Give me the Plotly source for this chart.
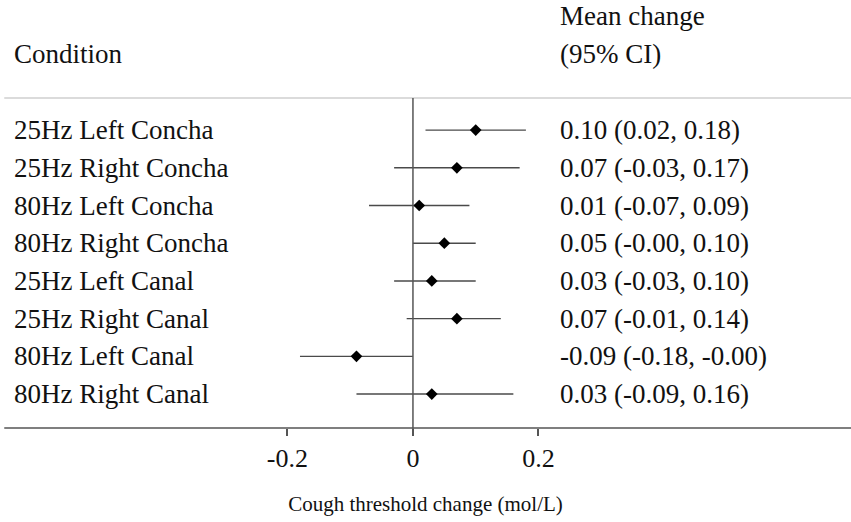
import plotly.graph_objects as go

conditions = [
    "25Hz Left Concha", "25Hz Right Concha", "80Hz Left Concha", "80Hz Right Concha",
    "25Hz Left Canal", "25Hz Right Canal", "80Hz Left Canal", "80Hz Right Canal",
]
mean_change = [0.10, 0.07, 0.01, 0.05, 0.03, 0.07, -0.09, 0.03]
ci_low = [0.02, -0.03, -0.07, -0.00, -0.03, -0.01, -0.18, -0.09]
ci_high = [0.18, 0.17, 0.09, 0.10, 0.10, 0.14, -0.00, 0.16]
ci_text = [
    "0.10 (0.02, 0.18)", "0.07 (-0.03, 0.17)", "0.01 (-0.07, 0.09)", "0.05 (-0.00, 0.10)",
    "0.03 (-0.03, 0.10)", "0.07 (-0.01, 0.14)", "-0.09 (-0.18, -0.00)", "0.03 (-0.09, 0.16)",
]
x_ticks = [-0.2, 0, 0.2]
x_ticklabels = ["-0.2", "0", "0.2"]

FONT = "Liberation Serif"
TXT = "#111111"
rows = list(range(len(conditions)))

fig = go.Figure(
    go.Scatter(
        x=mean_change,
        y=rows,
        mode="markers",
        marker=dict(symbol="diamond", size=9, color="black"),
        error_x=dict(
            type="data",
            symmetric=False,
            array=[h - m for h, m in zip(ci_high, mean_change)],
            arrayminus=[m - l for m, l in zip(mean_change, ci_low)],
            color="#4a4a4a",
            thickness=1.4,
            width=0,
        ),
        showlegend=False,
        hoverinfo="skip",
    )
)

annotations = []
for i, (lab, txt) in enumerate(zip(conditions, ci_text)):
    annotations.append(dict(x=0.014, xref="paper", y=i, yref="y", text=lab,
                            xanchor="left", showarrow=False))
    annotations.append(dict(x=0.231, xref="x", y=i, yref="y", text=txt,
                            xanchor="left", showarrow=False))
annotations += [
    dict(x=0.014, xref="paper", y=-2.015, yref="y", text="Condition",
         xanchor="left", showarrow=False),
    dict(x=0.231, xref="x", y=-3.02, yref="y", text="Mean change",
         xanchor="left", showarrow=False),
    dict(x=0.231, xref="x", y=-2.015, yref="y", text="(95% CI)",
         xanchor="left", showarrow=False),
]

shapes = [
    # header rule
    dict(type="line", xref="paper", yref="y", x0=0.005, x1=1, y0=-0.848, y1=-0.848,
         line=dict(color="#cfcfcf", width=1.5)),
    # axis line
    dict(type="line", xref="paper", yref="paper", x0=0.005, x1=1, y0=0, y1=0,
         line=dict(color="#555555", width=1.5)),
    # zero reference line
    dict(type="line", xref="x", yref="paper", x0=0, x1=0, y0=-0.016, y1=0.771,
         line=dict(color="#555555", width=1.5)),
]

fig.update_layout(
    width=851,
    height=522,
    margin=dict(l=0, r=0, t=0, b=94),
    plot_bgcolor="white",
    paper_bgcolor="white",
    font=dict(family=FONT, size=27, color=TXT),
    annotations=annotations,
    shapes=shapes,
    xaxis=dict(
        range=[-0.658, 0.698],
        tickvals=x_ticks,
        ticktext=x_ticklabels,
        ticks="outside",
        ticklen=7,
        tickwidth=1.5,
        tickcolor="#555555",
        showgrid=False,
        zeroline=False,
        showline=False,
        tickfont=dict(size=26),
        title=dict(text="Cough threshold change (mol/L)", font=dict(size=21), standoff=24),
    ),
    yaxis=dict(
        range=[7.90, -3.45],
        showgrid=False,
        zeroline=False,
        showticklabels=False,
        showline=False,
    ),
)

fig.write_html(
    "out.html",
    config={"displayModeBar": False},
    post_script="document.body.style.margin='0';",
)
